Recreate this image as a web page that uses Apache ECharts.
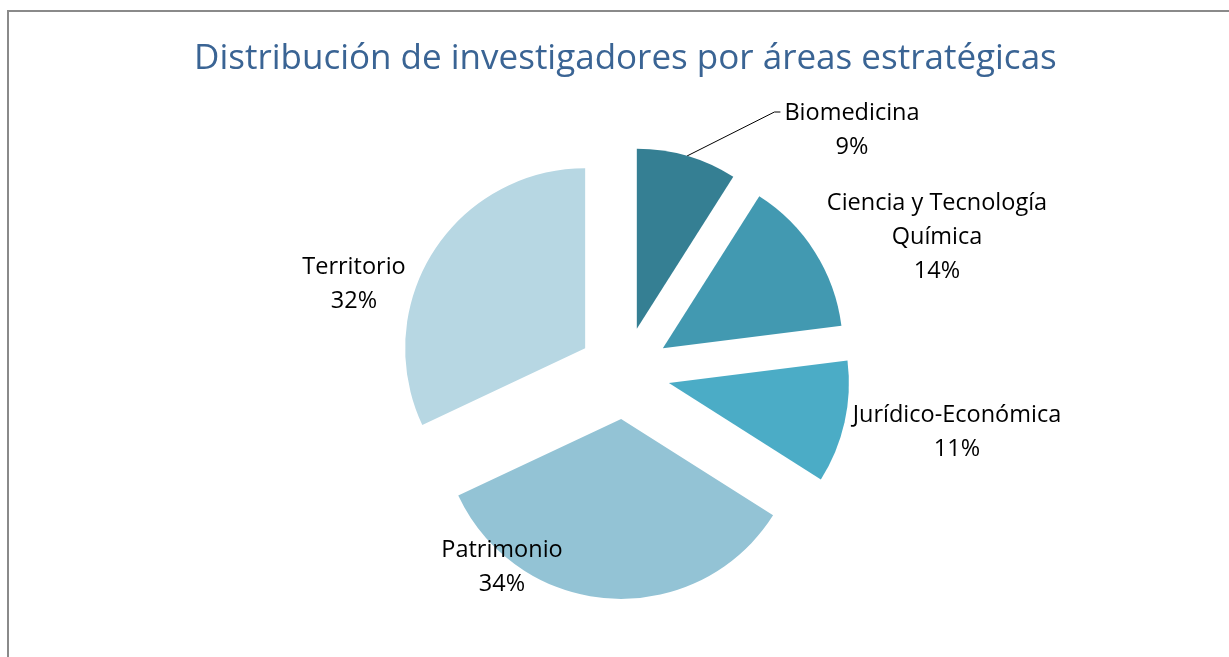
<!DOCTYPE html>
<html>
<head>
<meta charset="utf-8">
<script src="https://cdn.jsdelivr.net/npm/echarts@6/dist/echarts.min.js"></script>
<style>
html,body{margin:0;padding:0;background:#fff;}
#frame{position:absolute;left:7px;top:10px;width:1240px;height:660px;border-top:2px solid #8a8a8a;border-left:2px solid #8a8a8a;}
#chart{position:absolute;left:0;top:0;width:1229px;height:657px;}
</style>
</head>
<body>
<div id="frame"></div>
<div id="chart"></div>
<script>
const categories = ['Biomedicina', 'Ciencia y Tecnología Química', 'Jurídico-Económica', 'Patrimonio', 'Territorio'];
const labelTexts = ['Biomedicina', 'Ciencia y Tecnología\nQuímica', 'Jurídico-Económica', 'Patrimonio', 'Territorio'];
const values = [9, 14, 11, 34, 32];
const colors = ['#357F93', '#4299B1', '#4BACC6', '#93C3D5', '#B7D7E3'];
const labelCenters = [[852, 130], [937, 237], [957, 432], [502, 567], [354, 284]];

const CENTER = [624, 373], RADIUS = 180, OFFSET = 46;
const chart = echarts.init(document.getElementById('chart'), null, {renderer: 'canvas'});
const total = values.reduce((a, b) => a + b, 0);

// outer arc point at the bisector of an exploded slice (computed from values)
function bisectorEdge(i) {
  let before = 0;
  for (let k = 0; k < i; k++) before += values[k];
  const ang = (before + values[i] / 2) / total * 2 * Math.PI;
  const r = RADIUS + OFFSET;
  return [CENTER[0] + r * Math.sin(ang), CENTER[1] - r * Math.cos(ang)];
}

chart.setOption({
  animation: false,
  title: {
    text: 'Distribución de investigadores por áreas estratégicas',
    left: 189, top: 37,
    textStyle: {fontFamily: 'Open Sans', fontWeight: 'normal', fontSize: 35, color: '#3A6494'}
  },
  series: [{
    type: 'pie',
    center: CENTER,
    radius: RADIUS,
    startAngle: 90,
    clockwise: true,
    selectedMode: 'multiple',
    selectedOffset: OFFSET,
    emphasis: {disabled: true},
    label: {show: false},
    labelLine: {show: false},
    data: categories.map((c, i) => ({
      name: c, value: values[i], selected: true,
      itemStyle: {color: colors[i]}
    }))
  }, {
    type: 'pie',
    center: CENTER,
    radius: RADIUS,
    startAngle: 90,
    clockwise: true,
    silent: true,
    selectedMode: false,
    emphasis: {disabled: true},
    itemStyle: {color: 'rgba(0,0,0,0)'},
    data: categories.map((c, i) => ({
      name: c, value: values[i],
      labelLine: {show: i === 0, lineStyle: {color: '#000', width: 1}}
    })),
    label: {
      show: true,
      formatter: p => labelTexts[p.dataIndex] + '\n' + Math.round(p.value / total * 100) + '%',
      fontFamily: 'Open Sans', fontSize: 23.5, color: '#000', lineHeight: 34, align: 'center'
    },
    labelLayout: p => {
      const c = labelCenters[p.dataIndex];
      const res = {x: c[0], y: c[1], align: 'center', verticalAlign: 'middle'};
      if (p.dataIndex === 0) {
        const s = bisectorEdge(0);
        const lx = c[0] - p.labelRect.width / 2;
        const ly = c[1] - 18;
        res.labelLinePoints = [s, [lx - 10, ly], [lx - 4, ly]];
      }
      return res;
    }
  }]
});
</script>
</body>
</html>
